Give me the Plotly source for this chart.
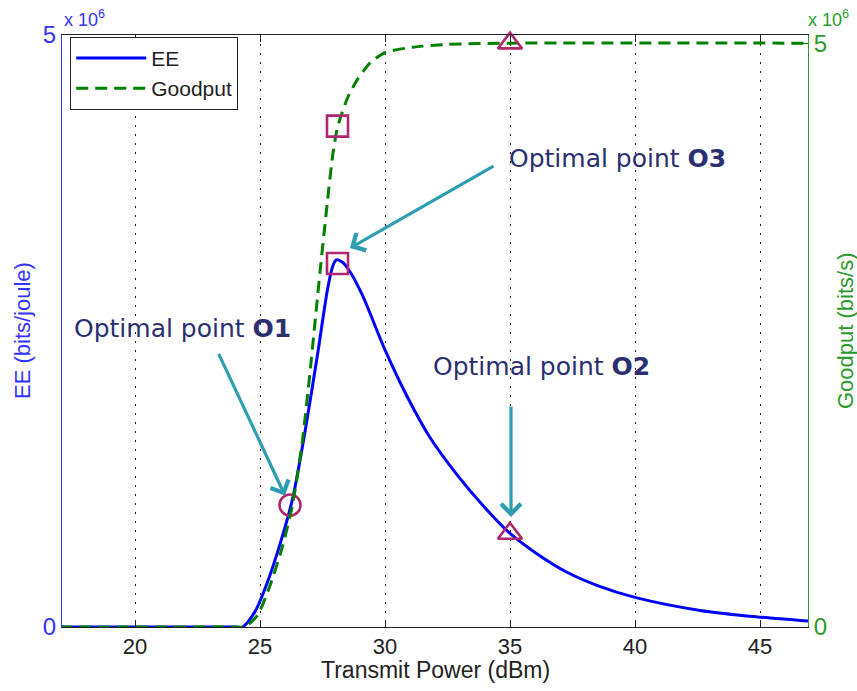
import plotly.graph_objects as go

# ---- data (values in units of 10^6) ----
ee_x = [17.0, 20.0, 24.0, 24.3, 24.8, 25.3, 25.8, 26.3, 26.8, 27.3, 27.7, 27.9, 28.05,
        28.3, 28.6, 29.1, 30.0, 30.9, 31.8, 32.9, 33.9, 35.0, 36.0, 37.3, 38.5, 40.0,
        42.6, 44.9, 46.92]
ee_y = [0.0, 0.0, 0.0, 0.0, 0.13, 0.38, 0.70, 1.08, 1.65, 2.30, 2.85, 3.04, 3.10,
        3.08, 3.00, 2.80, 2.34, 1.94, 1.60, 1.28, 1.03, 0.79, 0.63, 0.46, 0.35, 0.25,
        0.14, 0.085, 0.05]

gp_x = [17.0, 20.0, 24.1, 24.4, 24.9, 25.4, 25.9, 26.3, 26.7, 27.0, 27.4, 27.7, 27.9,
        28.1, 28.5, 28.9, 29.4, 30.0, 31.1, 32.5, 35.0, 46.92]
gp_y = [0.0, 0.0, 0.0, 0.0, 0.10, 0.355, 0.69, 1.045, 1.60, 2.18, 3.04, 3.65, 4.03,
        4.28, 4.53, 4.69, 4.83, 4.92, 4.965, 4.99, 5.0, 5.0]

o1 = (26.2, 1.03)
o3_ee = (28.1, 3.07)
o3_gp = (28.1, 4.29)
o2_ee = (35.0, 0.79)
o2_gp = (35.0, 5.0)

x_ticks = [20, 25, 30, 35, 40, 45]

BLUE = "#0000FF"
AXBLUE = "#3333FF"
GREEN = "#008000"
AXGREEN = "#2a9a2a"
MAG = "#B0266E"
TEAL = "#2E9DB2"
NAVY = "#2B2F72"
TXT = "#222222"

fig = go.Figure()
fig.add_trace(go.Scatter(x=ee_x, y=ee_y, mode="lines", name="EE",
                         line=dict(color=BLUE, width=3, shape="spline", smoothing=0.8)))
fig.add_trace(go.Scatter(x=gp_x, y=gp_y, mode="lines", name="Goodput", yaxis="y2",
                         line=dict(color=GREEN, width=3, dash="12px,7px", shape="spline", smoothing=0.6)))

mk = dict(color=MAG, size=21, line=dict(color=MAG, width=2.6))
fig.add_trace(go.Scatter(x=[o1[0]], y=[o1[1]], mode="markers", showlegend=False,
                         marker=dict(symbol="circle-open", **mk), cliponaxis=False))
fig.add_trace(go.Scatter(x=[o3_ee[0]], y=[o3_ee[1]], mode="markers",
                         showlegend=False, marker=dict(symbol="square-open", **mk), cliponaxis=False))
fig.add_trace(go.Scatter(x=[o3_gp[0]], y=[o3_gp[1]], mode="markers", yaxis="y2",
                         showlegend=False, marker=dict(symbol="square-open", **mk), cliponaxis=False))
fig.add_trace(go.Scatter(x=[o2_ee[0]], y=[o2_ee[1]], mode="markers",
                         showlegend=False, marker=dict(symbol="triangle-up-open", **mk), cliponaxis=False))
fig.add_trace(go.Scatter(x=[o2_gp[0]], y=[o2_gp[1]], mode="markers", yaxis="y2",
                         showlegend=False, marker=dict(symbol="triangle-up-open", **mk), cliponaxis=False))

ann_font = dict(family="DejaVu Sans, sans-serif", size=25, color=NAVY)
mat_font = "Liberation Sans, Arial, sans-serif"
narrow = "Liberation Sans Narrow, Arial Narrow, Liberation Sans, sans-serif"
annotations = [
    dict(x=39.28, y=3.96, xref="x", yref="y", text="Optimal point <b>O3</b>",
         showarrow=False, font=ann_font),
    dict(x=21.88, y=2.525, xref="x", yref="y", text="Optimal point <b>O1</b>",
         showarrow=False, font=ann_font),
    dict(x=36.24, y=2.196, xref="x", yref="y", text="Optimal point <b>O2</b>",
         showarrow=False, font=ann_font),
    # arrows
    dict(x=28.6, y=3.20, ax=34.4, ay=3.90, xref="x", yref="y", axref="x", ayref="y",
         text="", showarrow=True, arrowhead=4, arrowsize=1.2, arrowwidth=3.2, arrowcolor=TEAL),
    dict(x=26.0, y=1.11, ax=23.32, ay=2.32, xref="x", yref="y", axref="x", ayref="y",
         text="", showarrow=True, arrowhead=4, arrowsize=1.2, arrowwidth=3.2, arrowcolor=TEAL),
    dict(x=35.04, y=0.93, ax=35.04, ay=1.875, xref="x", yref="y", axref="x", ayref="y",
         text="", showarrow=True, arrowhead=4, arrowsize=1.2, arrowwidth=3.2, arrowcolor=TEAL),
    # exponent labels
    dict(x=0.0, y=1.0, xref="paper", yref="paper", xanchor="left", yanchor="bottom",
         text="x 10<sup>6</sup>", showarrow=False, yshift=3,
         font=dict(family=mat_font, size=18, color=AXBLUE)),
    dict(x=1.0, y=1.0, xref="paper", yref="paper", xanchor="left", yanchor="bottom",
         text="x 10<sup>6</sup>", showarrow=False, yshift=3, xshift=-2,
         font=dict(family=mat_font, size=18, color=AXGREEN)),
    # y-axis titles
    dict(x=-0.0536, y=0.5, xref="paper", yref="paper", xanchor="center", yanchor="middle",
         text="EE (bits/joule)", textangle=-90, showarrow=False,
         font=dict(family=mat_font, size=22, color=AXBLUE)),
    dict(x=1.0496, y=0.5, xref="paper", yref="paper", xanchor="center", yanchor="middle",
         text="Goodput (bits/s)", textangle=-90, showarrow=False,
         font=dict(family=mat_font, size=22, color=AXGREEN)),
    # x-axis title
    dict(x=0.5, y=-0.0726, xref="paper", yref="paper", xanchor="center", yanchor="middle",
         text="Transmit Power (dBm)", showarrow=False,
         font=dict(family=mat_font, size=23, color=TXT)),
]

fig.update_layout(
    width=857, height=691,
    margin=dict(l=62, r=49, t=35, b=64),
    paper_bgcolor="white", plot_bgcolor="white",
    font=dict(family=mat_font, size=17, color=TXT),
    showlegend=True,
    legend=dict(x=0.011, y=0.997, xanchor="left", yanchor="top",
                bgcolor="white", bordercolor=TXT, borderwidth=1,
                font=dict(family=mat_font, size=21, color=TXT), itemwidth=70,
                tracegroupgap=0),
    annotations=annotations,
    xaxis=dict(range=[17.08, 46.92], tickvals=x_ticks, ticks="inside", ticklen=7,
               tickcolor=TXT, showline=True, linecolor=TXT, linewidth=1,
               mirror="ticks", showgrid=True, gridcolor=TXT, gridwidth=1,
               griddash="2px,7px", zeroline=False, automargin=False,
               tickfont=dict(family=narrow, size=22, color=TXT)),
    yaxis=dict(range=[0, 5], tickvals=[0, 5], ticktext=["0", "5"], ticks="inside",
               ticklen=7, tickcolor=BLUE, showline=True, linecolor=AXBLUE, linewidth=1,
               showgrid=False, zeroline=False, automargin=False,
               tickfont=dict(family=narrow, size=24, color=AXBLUE)),
    yaxis2=dict(range=[0, 5.07], tickvals=[0, 5], ticktext=["0", "5"], ticks="inside",
                ticklen=7, tickcolor=GREEN, overlaying="y", side="right", showline=True,
                linecolor=AXGREEN, linewidth=1, showgrid=False, zeroline=False,
                automargin=False, tickfont=dict(family=narrow, size=24, color=AXGREEN)),
)

fig.write_html("out.html")
